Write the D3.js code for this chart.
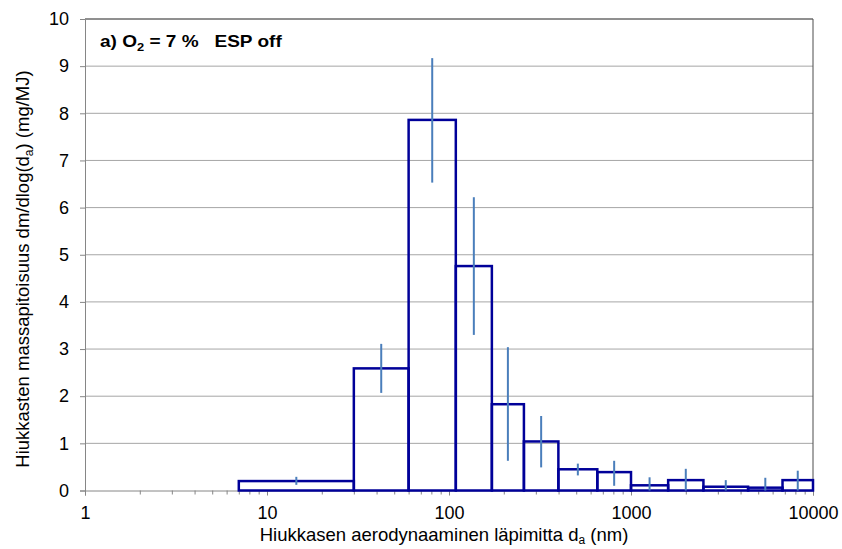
<!DOCTYPE html>
<html>
<head>
<meta charset="utf-8">
<script src="https://cdn.jsdelivr.net/npm/d3@7"></script>
<style>
  html, body { margin: 0; padding: 0; background: #ffffff; }
  svg { display: block; font-family: "Liberation Sans", Arial, sans-serif; }
</style>
</head>
<body>
<svg id="chart" width="842" height="549"></svg>
<script>
// Size-bin edges (nm) of the impactor stages
const binLower = [7, 30, 60, 109, 172, 258, 399, 653, 1000, 1600, 2500, 4400, 6800];
const binUpper = [30, 60, 109, 172, 258, 399, 653, 1000, 1600, 2500, 4400, 6800, 10000];
// Mass size distribution dm/dlog(da), mg/MJ
const massValues = [0.20, 2.59, 7.86, 4.76, 1.83, 1.04, 0.45, 0.39, 0.11, 0.22, 0.08, 0.06, 0.22];
// Error bar ranges (low, high), mg/MJ
const errLow  = [0.12, 2.07, 6.53, 3.30, 0.63, 0.49, 0.32, 0.10, 0.00, 0.00, 0.00, 0.00, 0.00];
const errHigh = [0.29, 3.11, 9.17, 6.22, 3.04, 1.58, 0.57, 0.63, 0.28, 0.46, 0.22, 0.27, 0.42];
// Axis ticks
const xMajorTicks = [1, 10, 100, 1000, 10000];
const yTicks = [0, 1, 2, 3, 4, 5, 6, 7, 8, 9, 10];

const svg = d3.select("#chart");
const margin = { left: 85, right: 29, top: 19, bottom: 58.5 };
const W = 842, H = 549;
const x = d3.scaleLog().domain([1, 10000]).range([margin.left, W - margin.right]);
const y = d3.scaleLinear().domain([0, 10]).range([H - margin.bottom, margin.top]);

const axisColor = "#868686";
const gridColor = "#a6a6a6";
const barColor = "#000099";
const errColor = "#4a7ebb";
const font = "Liberation Sans, Arial, sans-serif";

// Horizontal gridlines
svg.append("g")
  .selectAll("line")
  .data(yTicks.filter(d => d > 0))
  .join("line")
  .attr("x1", x.range()[0]).attr("x2", x.range()[1])
  .attr("y1", d => y(d)).attr("y2", d => y(d))
  .attr("stroke", gridColor).attr("stroke-width", 1);

// Plot frame (top and right edges)
svg.append("path")
  .attr("d", `M${x.range()[0]},${y(10)}H${x.range()[1]}V${y(0)}`)
  .attr("fill", "none").attr("stroke", "#4d4d4d").attr("stroke-width", 1);

// Minor log ticks
const minorTicks = [];
for (let e = 0; e < 4; e++) for (let m = 2; m <= 9; m++) minorTicks.push(m * Math.pow(10, e));

const xMinor = svg.append("g")
  .attr("transform", `translate(0,${y(0)})`)
  .call(d3.axisBottom(x).tickValues(minorTicks).tickSize(4).tickFormat(""));
xMinor.select(".domain").remove();
xMinor.selectAll("line").attr("stroke", axisColor);

const xAxis = svg.append("g")
  .attr("transform", `translate(0,${y(0)})`)
  .call(d3.axisBottom(x).tickValues(xMajorTicks).tickSize(5).tickPadding(11)
    .tickFormat(d3.format("d")));
xAxis.select(".domain").attr("stroke", axisColor);
xAxis.selectAll("line").attr("stroke", axisColor);
xAxis.selectAll("text").attr("font-size", 18).attr("fill", "#000").attr("font-family", font);

const yAxis = svg.append("g")
  .attr("transform", `translate(${x.range()[0]},0)`)
  .call(d3.axisLeft(y).tickValues(yTicks).tickSize(5).tickPadding(11));
yAxis.select(".domain").attr("stroke", axisColor);
yAxis.selectAll("line").attr("stroke", axisColor);
yAxis.selectAll("text").attr("font-size", 18).attr("fill", "#000").attr("font-family", font);

// Histogram bars (outline only)
svg.append("g")
  .selectAll("rect")
  .data(massValues)
  .join("rect")
  .attr("x", (d, i) => x(binLower[i]))
  .attr("width", (d, i) => x(binUpper[i]) - x(binLower[i]))
  .attr("y", d => y(d))
  .attr("height", d => y(0) - y(d))
  .attr("fill", "none")
  .attr("stroke", barColor)
  .attr("stroke-width", 2.5);

// Error bars at the geometric bin midpoints
svg.append("g")
  .selectAll("line")
  .data(massValues)
  .join("line")
  .attr("x1", (d, i) => x(Math.sqrt(binLower[i] * binUpper[i])))
  .attr("x2", (d, i) => x(Math.sqrt(binLower[i] * binUpper[i])))
  .attr("y1", (d, i) => y(errLow[i]))
  .attr("y2", (d, i) => y(errHigh[i]))
  .attr("stroke", errColor)
  .attr("stroke-width", 2);

// Panel label
const label = svg.append("text")
  .attr("transform", "translate(100,47) scale(1.12,1)")
  .attr("font-size", 17).attr("font-weight", "bold")
  .style("white-space", "pre");
label.append("tspan").text("a) O");
label.append("tspan").attr("font-size", 11.5).attr("dy", 4).text("2");
label.append("tspan").attr("dy", -4).text(" = 7 %   ESP off");

// X axis title
const xt = svg.append("text")
  .attr("x", 444).attr("y", 541)
  .attr("text-anchor", "middle").attr("font-size", 18.5);
xt.append("tspan").text("Hiukkasen aerodynaaminen läpimitta d");
xt.append("tspan").attr("font-size", 12).attr("dy", 3).text("a");
xt.append("tspan").attr("dy", -3).text(" (nm)");

// Y axis title
const yt = svg.append("text")
  .attr("transform", `translate(29,269) rotate(-90)`)
  .attr("text-anchor", "middle").attr("font-size", 18.5);
yt.append("tspan").text("Hiukkasten massapitoisuus dm/dlog(d");
yt.append("tspan").attr("font-size", 12).attr("dy", 4).text("a");
yt.append("tspan").attr("dy", -4).text(") (mg/MJ)");
</script>
</body>
</html>
